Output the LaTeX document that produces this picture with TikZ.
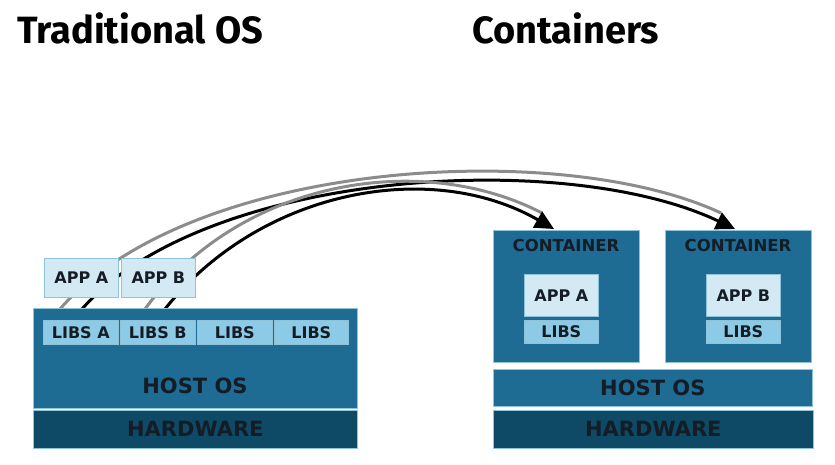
\documentclass[tikz,border=0pt]{standalone}
\usepackage{fontspec}
\setmainfont{DejaVu Sans}
\newfontfamily\ttlfont{Fira Sans}
\usetikzlibrary{arrows.meta}
\definecolor{hostblue}{HTML}{1E6B94}
\definecolor{hwblue}{HTML}{0E4A66}
\definecolor{applight}{HTML}{D3EAF4}
\definecolor{libsblue}{HTML}{8DCAE5}
\definecolor{txt}{HTML}{141C26}
\definecolor{edgec}{HTML}{8EC3DA}
\definecolor{linegray}{HTML}{8C8C8C}
\tikzset{
  blk/.style={draw=edgec, line width=0.6pt, anchor=north west, inner sep=0pt, text=txt},
  hostbox/.style={blk, fill=hostblue, font=\bfseries\fontsize{21}{21}\selectfont},
  hwbox/.style={blk, fill=hwblue, font=\bfseries\fontsize{21}{21}\selectfont},
  appbox/.style={blk, fill=applight, font=\bfseries\fontsize{16}{16}\selectfont},
  libbox/.style={blk, fill=libsblue, font=\bfseries\fontsize{16}{16}\selectfont},
  contbox/.style={blk, fill=hostblue},
  lbl/.style={inner sep=0pt, text=txt, font=\bfseries\fontsize{21}{21}\selectfont},
  clbl/.style={inner sep=0pt, text=txt, font=\bfseries\fontsize{16.5}{16.5}\selectfont},
  ttl/.style={inner sep=0pt, anchor=base west, font=\ttlfont\bfseries\fontsize{38}{38}\selectfont},
  grayline/.style={draw=linegray, line width=3pt},
  blackline/.style={draw=black, line width=3pt, -{Triangle[length=19pt,width=18pt]}}
}
\begin{document}
\begin{tikzpicture}[x=1pt,y=-1pt]
\useasboundingbox (0,0) rectangle (835,464);
% titles
\node[ttl] (t1) at (17,43) {Traditional OS};
\node[ttl] (t2) at (472,43) {Containers};
% start / end coordinates of connectors
\coordinate (ga) at (60,309);
\coordinate (ba) at (82,309);
\coordinate (gb) at (145,309);
\coordinate (bb) at (165,309);
\coordinate (gae) at (721,213);
\coordinate (gbe) at (542,213);
\coordinate (tipA) at (554,229);
\coordinate (tipB) at (735,229);
% connectors
\draw[grayline] (ga) .. controls (190,160) and (560,138) .. (gae);
\draw[blackline] (ba) .. controls (205,170) and (565,148) .. (tipB);
\draw[grayline] (gb) .. controls (240,180) and (420,150) .. (gbe);
\draw[blackline] (bb) .. controls (260,190) and (430,158) .. (tipA);
% left stack
\node[hostbox, minimum width=324pt, minimum height=100pt] (host1) at (33,308) {};
\node[lbl] (host1l) at (195,386) {HOST OS};
\node[hwbox, minimum width=324pt, minimum height=38pt] (hw1) at (33,410) {HARDWARE};
\node[libbox, minimum width=75pt, minimum height=24pt] (libsA) at (43,320) {LIBS A};
\node[libbox, minimum width=75pt, minimum height=24pt] (libsB) at (120,320) {LIBS B};
\node[libbox, minimum width=75pt, minimum height=24pt] (libsC) at (197,320) {LIBS};
\node[libbox, minimum width=74pt, minimum height=24pt] (libsD) at (274,320) {LIBS};
\node[appbox, minimum width=74pt, minimum height=39pt] (appA) at (44,258) {APP A};
\node[appbox, minimum width=74pt, minimum height=39pt] (appB) at (121,258) {APP B};
% right stack
\node[contbox, minimum width=146pt, minimum height=132pt] (contA) at (493,230) {};
\node[clbl] (contAl) at (566,245) {CONTAINER};
\node[contbox, minimum width=146pt, minimum height=132pt] (contB) at (665,230) {};
\node[clbl] (contBl) at (738,245) {CONTAINER};
\node[appbox, minimum width=74pt, minimum height=42pt] (appA2) at (524,274) {APP A};
\node[libbox, minimum width=74pt, minimum height=23pt] (libsA2) at (524,320) {LIBS};
\node[appbox, minimum width=74pt, minimum height=42pt] (appB2) at (706,274) {APP B};
\node[libbox, minimum width=74pt, minimum height=23pt] (libsB2) at (706,320) {LIBS};
\node[hostbox, minimum width=319pt, minimum height=37pt] (host2) at (493,369) {HOST OS};
\node[hwbox, minimum width=320pt, minimum height=38pt] (hw2) at (493,410) {HARDWARE};
\end{tikzpicture}
\end{document}
